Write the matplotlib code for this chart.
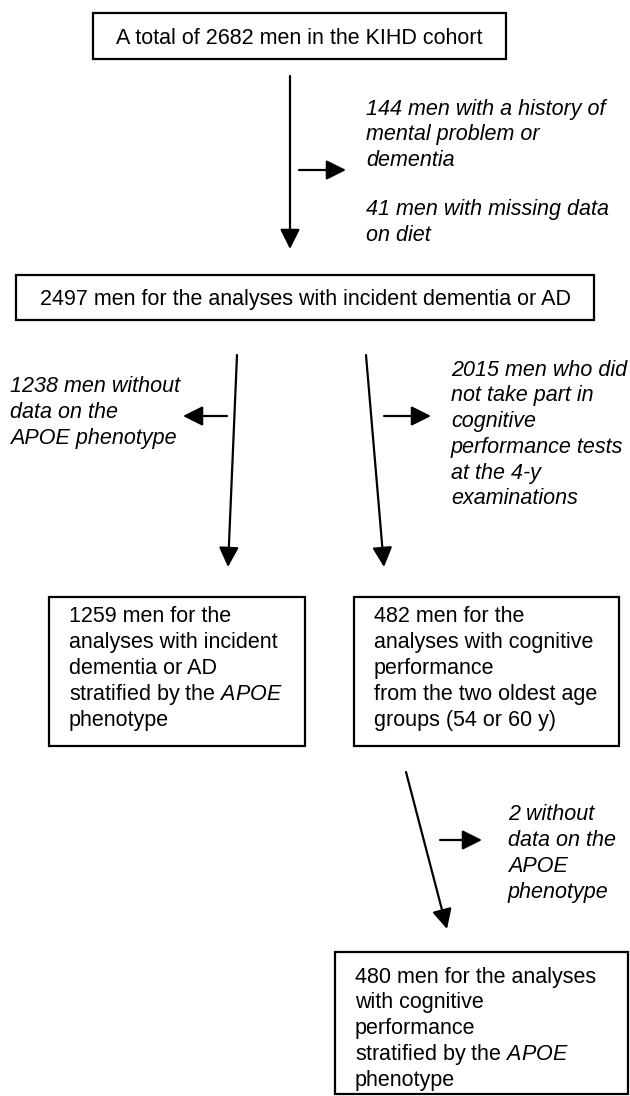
import matplotlib
matplotlib.use("Agg")
import matplotlib.pyplot as plt
from matplotlib.patches import Rectangle, FancyArrowPatch

# participant counts in the flow chart
n_total = 2682
n_history = 144
n_no_diet = 41
n_dementia = 2497
n_no_apoe = 1238
n_no_cog = 2015
n_apoe = 1259
n_cog = 482
n_cog_no_apoe = 2
n_cog_apoe = 480

plt.rcParams['font.family'] = ['Liberation Sans', 'DejaVu Sans']
plt.rcParams['mathtext.fontset'] = 'custom'
plt.rcParams['mathtext.rm'] = 'Liberation Sans'
plt.rcParams['mathtext.it'] = 'Liberation Sans:italic'

FS = 15.5      # points at dpi 100 (~21.5 px)
LINE = 25.8    # px between lines
BASE = 7.5     # baseline offset from visual line centre

fig = plt.figure(figsize=(6.3, 10.96), dpi=100)
ax = fig.add_axes([0, 0, 1, 1])
ax.set_xlim(0, 630)
ax.set_ylim(1096, 0)
ax.axis('off')


def box(x0, y0, x1, y1):
    ax.add_patch(Rectangle((x0, y0), x1 - x0, y1 - y0, fill=False,
                           edgecolor='black', lw=1.6))


def lines(x, y0, rows, italic=False, ha='left'):
    for i, row in enumerate(rows):
        ax.text(x, y0 + i * LINE + BASE, row, fontsize=FS, ha=ha, va='baseline',
                style='italic' if italic else 'normal', color='black')


def arrow(p0, p1):
    ax.add_patch(FancyArrowPatch(p0, p1, arrowstyle='-|>,head_length=12,head_width=6',
                                 mutation_scale=1, lw=1.6, color='black',
                                 shrinkA=0, shrinkB=0))


# top box
box(93, 13, 506, 59)
lines(299.5, 36, [f"A total of {n_total} men in the KIHD cohort"], ha='center')
arrow((290, 76), (290, 249))
arrow((299, 170), (346, 170))
lines(366, 107, [f"{n_history} men with a history of", "mental problem or", "dementia"], italic=True)
lines(366, 208, [f"{n_no_diet} men with missing data", "on diet"], italic=True)

# second box
box(16, 275, 594, 320)
lines(305, 297, [f"{n_dementia} men for the analyses with incident dementia or AD"], ha='center')

arrow((237, 355), (228, 567))
arrow((366, 355), (384, 567))
arrow((227, 416), (183, 416))
arrow((384, 416), (431, 416))
lines(10, 385, [f"{n_no_apoe} men without", "data on the", "APOE phenotype"], italic=True)
lines(451, 368, [f"{n_no_cog} men who did", "not take part in", "cognitive",
                 "performance tests", "at the 4-y", "examinations"], italic=True)

# third row
box(49, 597, 305, 746)
lines(69, 615, [f"{n_apoe} men for the", "analyses with incident", "dementia or AD",
                r"stratified by the $\mathit{APOE}$", "phenotype"])
box(354, 597, 619, 746)
lines(374, 615, [f"{n_cog} men for the", "analyses with cognitive", "performance",
                 "from the two oldest age", "groups (54 or 60 y)"])

arrow((406, 772), (447, 929))
arrow((440, 840), (482, 840))
lines(508, 813, [f"{n_cog_no_apoe} without", "data on the", "APOE", "phenotype"], italic=True)

# bottom box
box(335, 952, 628, 1094)
lines(355, 975, [f"{n_cog_apoe} men for the analyses", "with cognitive", "performance",
                 r"stratified by the $\mathit{APOE}$", "phenotype"])

fig.savefig("out.png", dpi=100, facecolor='white')
